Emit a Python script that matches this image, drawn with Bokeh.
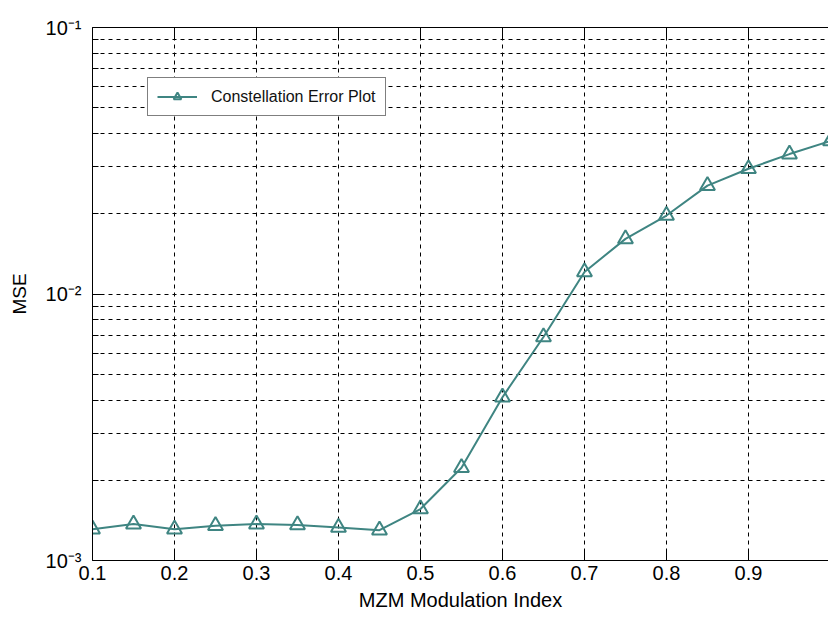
import math
from bokeh.plotting import figure
from bokeh.models import FixedTicker, LinearAxis
from bokeh.embed import file_html
from bokeh.resources import INLINE

# ---- data ----
mod_index = [0.10, 0.15, 0.20, 0.25, 0.30, 0.35, 0.40, 0.45, 0.50, 0.55,
             0.60, 0.65, 0.70, 0.75, 0.80, 0.85, 0.90, 0.95, 1.00]
mse = [1.31e-3, 1.37e-3, 1.31e-3, 1.35e-3, 1.37e-3, 1.36e-3, 1.33e-3, 1.30e-3,
       1.56e-3, 2.23e-3, 4.10e-3, 6.90e-3, 1.21e-2, 1.61e-2, 1.97e-2, 2.55e-2,
       2.95e-2, 3.35e-2, 3.75e-2]

x_ticks = [0.1, 0.2, 0.3, 0.4, 0.5, 0.6, 0.7, 0.8, 0.9, 1.0]
x_tick_labels = ["0.1", "0.2", "0.3", "0.4", "0.5", "0.6", "0.7", "0.8", "0.9", "1"]
y_major = [1e-3, 1e-2, 1e-1]
y_tick_labels = ["10\u207b\u00b3", "10\u207b\u00b2", "10\u207b\u00b9"]
y_minor = [2e-3, 3e-3, 4e-3, 5e-3, 6e-3, 7e-3, 8e-3, 9e-3,
           2e-2, 3e-2, 4e-2, 5e-2, 6e-2, 7e-2, 8e-2, 9e-2]

series_name = "Constellation Error Plot"
x_title = "MZM Modulation Index"
y_title = "MSE"

FONT = "Liberation Sans"
TEAL = "#3f8582"
DASH = "4 4"

p = figure(width=828, height=618, x_range=(0.1, 0.9976), y_range=(1e-3, 1e-1),
           y_axis_type="log", output_backend="svg", toolbar_location=None,
           min_border_left=92, min_border_right=0, min_border_top=27,
           min_border_bottom=58)
p.outline_line_color = None
p.background_fill_color = "white"
p.border_fill_color = "white"

xt = FixedTicker(ticks=x_ticks)
yt = FixedTicker(ticks=y_major, minor_ticks=y_minor)

# bottom axis
xa = p.xaxis[0]
xa.ticker = xt
xa.major_label_overrides = {t: l for t, l in zip(x_ticks, x_tick_labels)}
xa.major_label_text_font = FONT
xa.major_label_text_font_size = "20px"
xa.major_label_text_color = "black"
xa.major_label_standoff = 5
xa.major_tick_in = 10
xa.major_tick_out = 0
xa.minor_tick_in = 0
xa.minor_tick_out = 0
xa.axis_line_color = "black"
xa.major_tick_line_color = "black"
xa.axis_label = x_title
xa.axis_label_text_font = FONT
xa.axis_label_text_font_size = "20px"
xa.axis_label_text_font_style = "normal"
xa.axis_label_text_color = "black"
xa.axis_label_standoff = 6

# left axis
ya = p.yaxis[0]
ya.ticker = yt
ya.major_label_overrides = {v: l for v, l in zip(y_major, y_tick_labels)}
ya.major_label_text_font = FONT
ya.major_label_text_font_size = "20px"
ya.major_label_text_color = "black"
ya.major_label_standoff = 11
ya.major_tick_in = 10
ya.major_tick_out = 0
ya.minor_tick_in = 6
ya.minor_tick_out = 0
ya.axis_line_color = "black"
ya.major_tick_line_color = "black"
ya.minor_tick_line_color = "black"
ya.axis_label = y_title
ya.axis_label_text_font = FONT
ya.axis_label_text_font_size = "19px"
ya.axis_label_text_font_style = "normal"
ya.axis_label_text_color = "black"
ya.axis_label_standoff = 13

# top axis (box edge with inward ticks)
top = LinearAxis(ticker=xt, major_label_overrides={t: " " for t in x_ticks},
                 major_label_text_font_size="10px", major_label_standoff=0,
                 major_tick_in=10, major_tick_out=0, minor_tick_in=0, minor_tick_out=0,
                 axis_line_color="black", major_tick_line_color="black")
p.add_layout(top, "above")

# grids
p.xgrid.ticker = xt
p.xgrid.grid_line_color = "black"
p.xgrid.grid_line_dash = DASH
p.xgrid.grid_line_width = 1
p.ygrid.grid_line_color = "black"
p.ygrid.grid_line_dash = DASH
p.ygrid.minor_grid_line_color = "black"
p.ygrid.minor_grid_line_dash = DASH

# data
p.line(mod_index, mse, line_color=TEAL, line_width=2, legend_label=series_name)
p.scatter(mod_index, mse, marker="triangle", size=15, line_color=TEAL, line_width=2,
          fill_color=None, legend_label=series_name)

# legend
lg = p.legend[0]
lg.location = (55, 444)
lg.border_line_color = "black"
lg.border_line_width = 1
lg.background_fill_color = "white"
lg.background_fill_alpha = 1
lg.label_text_font = FONT
lg.label_text_font_size = "16px"
lg.label_text_color = "#111111"
lg.padding = 9
lg.margin = 0
lg.glyph_width = 40
lg.glyph_height = 19
lg.label_standoff = 14
lg.label_height = 19

open("out.html", "w").write(file_html(p, INLINE))
